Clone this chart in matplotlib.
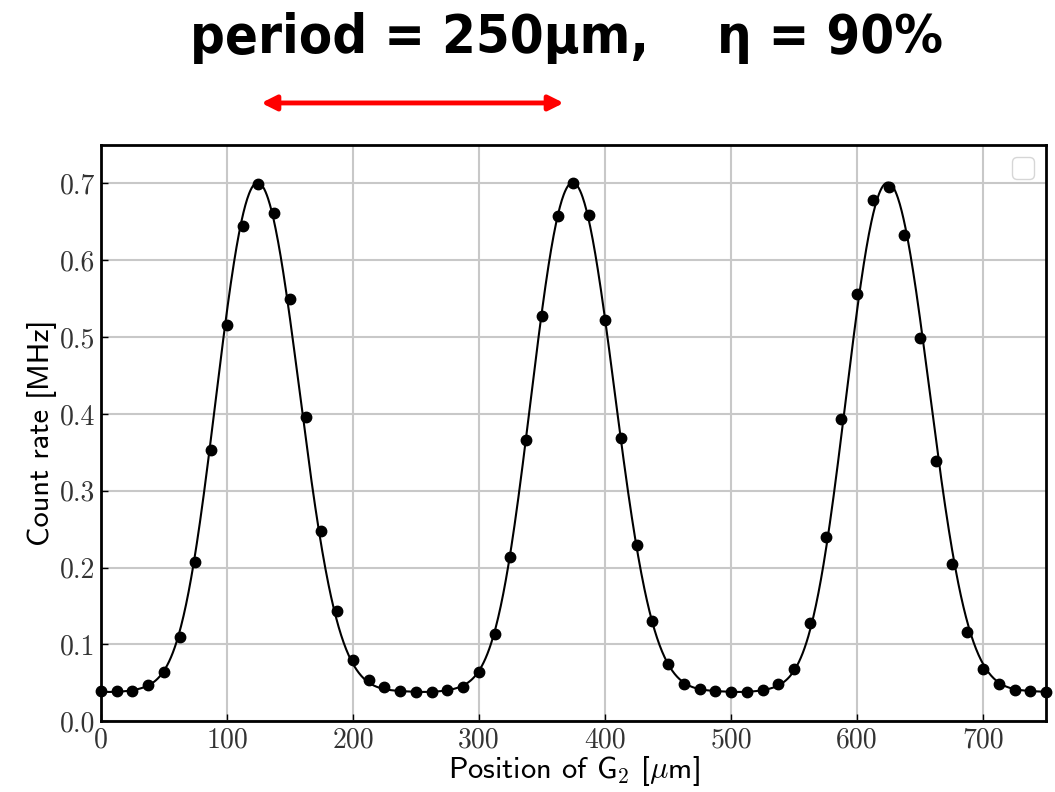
import numpy as np
import matplotlib.pyplot as plt
from matplotlib import font_manager
from matplotlib.patches import FancyArrowPatch

plt.rcParams["mathtext.fontset"] = "cm"
plt.rcParams["axes.formatter.use_mathtext"] = True

# measured scan: position of G2 [um] vs count rate [MHz]
step = 12.5
position = np.arange(61) * step
count_rate = [
    0.039, 0.039, 0.039, 0.047, 0.064, 0.110, 0.207, 0.353, 0.515, 0.645,
    0.699, 0.661, 0.550, 0.396, 0.248, 0.143, 0.080, 0.053, 0.044, 0.039,
    0.038, 0.038, 0.041, 0.045, 0.064, 0.114, 0.214, 0.366, 0.528, 0.658,
    0.701, 0.659, 0.522, 0.368, 0.229, 0.130, 0.075, 0.049, 0.042, 0.039,
    0.038, 0.038, 0.041, 0.048, 0.068, 0.128, 0.240, 0.393, 0.556, 0.678,
    0.695, 0.633, 0.499, 0.339, 0.205, 0.116, 0.068, 0.048, 0.041, 0.039,
    0.038,
]
period = 250.0
n_harm = 5

xticks = [0, 100, 200, 300, 400, 500, 600, 700]
yticks = [0.0, 0.1, 0.2, 0.3, 0.4, 0.5, 0.6, 0.7]


def design(x, k_max):
    cols = [np.ones_like(x)]
    for k in range(1, k_max + 1):
        cols.append(np.cos(2 * np.pi * k * x / period))
        cols.append(np.sin(2 * np.pi * k * x / period))
    return np.column_stack(cols)


# periodic least-squares fit of the scan
y = np.asarray(count_rate)
coef, *_ = np.linalg.lstsq(design(position, n_harm), y, rcond=None)
x_fit = np.linspace(0, 750, 1500)
y_fit = design(x_fit, n_harm) @ coef

fig = plt.figure(figsize=(10.55, 7.92), dpi=100)
ax = fig.add_axes([0.0957, 0.0894, 0.8958, 0.7276])

ax.plot(x_fit, y_fit, color="black", lw=1.5, zorder=3)
ax.plot(position, y, "o", color="black", ms=7.5, zorder=4, clip_on=False)

ax.set_xlim(0, 750)
ax.set_ylim(0, 0.75)
ax.set_xticks(xticks)
ax.set_yticks(yticks)
ax.set_xticklabels([str(t) for t in xticks], fontfamily="cmr10", fontsize=20, color="#333333")
ax.set_yticklabels([f"{t:.1f}" for t in yticks], fontfamily="cmr10", fontsize=20, color="#333333")
ax.tick_params(direction="in", length=5, width=1, pad=4)
ax.grid(True, color="#c8c8c8", lw=1.5)
ax.set_axisbelow(True)
for s in ax.spines.values():
    s.set_linewidth(2)

ax.set_ylabel("Count rate [MHz]", fontfamily="cmss10", fontsize=22, labelpad=2)
ax.set_xlabel(r"Position of G$_2$ [$\mu$m]", fontfamily="cmss10", fontsize=22, labelpad=0)

ax.legend(handles=[], loc="upper right", frameon=True, borderpad=0.44,
          borderaxespad=0.5, prop={"size": 18}, fancybox=True, edgecolor="#cccccc")

# title font: condensed bold if available
title_font = font_manager.FontProperties(family="DejaVu Sans", weight="bold",
                                         stretch="condensed", size=39)
found = font_manager.findfont(title_font)
if "Condensed" not in found:
    title_font = font_manager.FontProperties(family="Roboto", weight="bold", size=39)

fig.text(0.537, 0.952, "period = 250\u00b5m,    \u03b7 = 90%", ha="center", va="center",
         fontproperties=title_font)

arrow = FancyArrowPatch((0.245, 0.870), (0.537, 0.870), transform=fig.transFigure,
                        arrowstyle="<|-|>", mutation_scale=22, color="red", lw=3.5)
fig.add_artist(arrow)

fig.savefig("out.png", dpi=100)
